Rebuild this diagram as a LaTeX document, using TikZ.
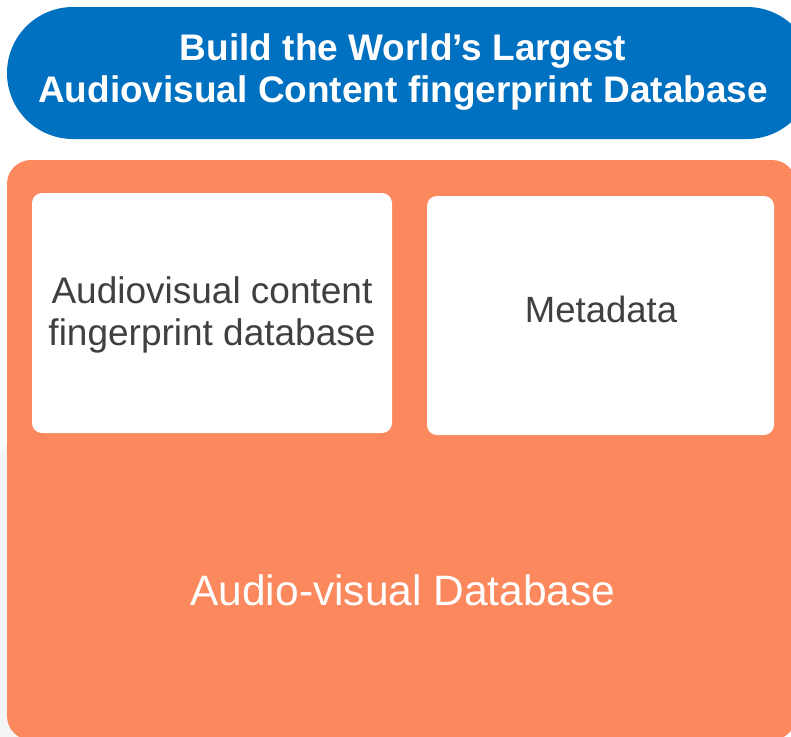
\documentclass[tikz,border=0pt]{standalone}
\usepackage{fontspec}
\setmainfont{Liberation Sans}

\definecolor{goalblue}{RGB}{0,112,192}
\definecolor{dbcoral}{RGB}{252,136,94}
\definecolor{cardgray}{RGB}{64,64,64}

\begin{document}
\begin{tikzpicture}[x=1pt, y=-1pt,
        card/.style={fill=white, rounded corners=10pt, inner sep=0pt},
        cardlabel/.style={text=cardgray, font=\fontsize{36.5}{42}\selectfont, align=center, inner sep=0pt}]
    \useasboundingbox (0,0) rectangle (791,736);
    \clip (0,0) rectangle (791,736);

    % faint shape behind the database block
    \fill[black!4] (120,600) ellipse [x radius=160, y radius=220];

    % goal banner
    \fill[goalblue, rounded corners=66pt] (7,7) rectangle (813,139);
    \node[text=white, font=\bfseries\fontsize{37}{42}\selectfont, align=center, inner sep=0pt] (goal) at (403,72.5)
        {Build the World’s Largest\\Audiovisual Content fingerprint Database};

    % database block with its two parts
    \fill[dbcoral, rounded corners=24pt] (7,160) rectangle (796,740);
    \node[card, minimum width=360pt, minimum height=240pt] (fpdb) at (212,313) {};
    \node[card, minimum width=347pt, minimum height=239pt] (meta) at (600.5,315.5) {};

    \node[cardlabel, font=\fontsize{37}{42}\selectfont] (fpdbtext) at (212,314.5) {Audiovisual content\\fingerprint database};
    \node[cardlabel, anchor=base] (metatext) at (601,322) {Metadata};

    \node[text=white, font=\fontsize{42.5}{50}\selectfont, anchor=base, inner sep=0pt] (dbname) at (403,605) {Audio-visual Database};
\end{tikzpicture}
\end{document}
